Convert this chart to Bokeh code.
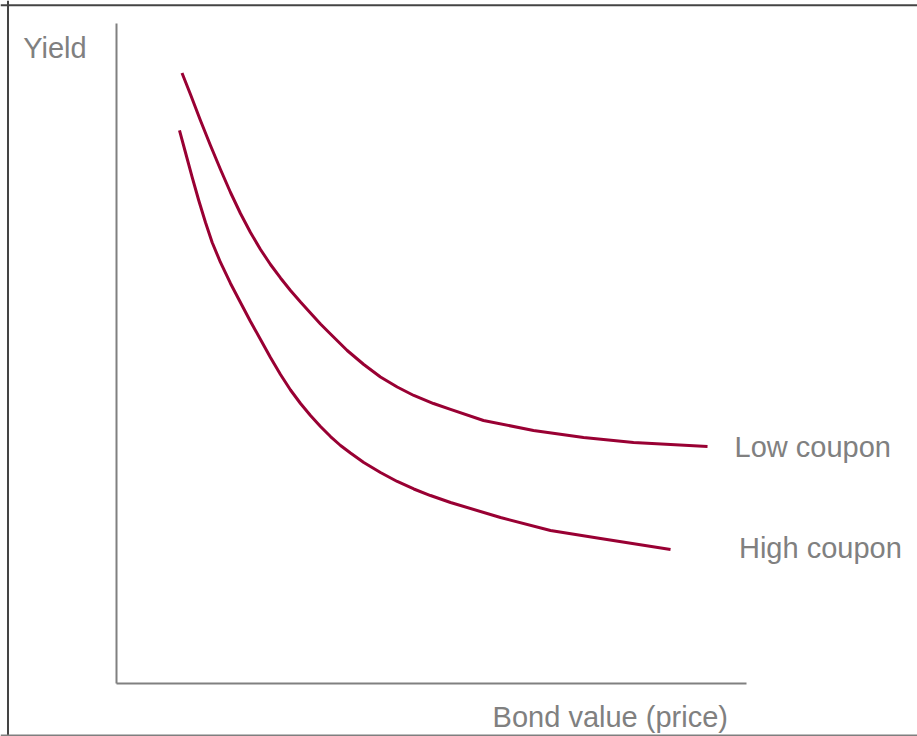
from bokeh.plotting import figure
from bokeh.models import Range1d, LinearAxis, FixedTicker, Span
from bokeh.core.properties import value
from bokeh.embed import file_html
from bokeh.resources import INLINE

# --- data (abstract price / yield units; both axes span 0..100) ---
low_price = [10.40, 11.75, 13.33, 14.92, 16.51, 18.10, 19.68, 21.27, 22.86, 24.44,
             26.03, 27.62, 29.21, 30.79, 32.38, 33.97, 36.62, 39.25, 41.90, 44.56,
             47.19, 50.32, 53.02, 58.25, 66.19, 74.13, 82.06, 93.81]
low_yield = [92.50, 89.24, 85.30, 81.52, 77.88, 74.39, 71.21, 68.33, 65.76, 63.48,
             61.44, 59.55, 57.80, 56.14, 54.47, 52.95, 50.45, 48.33, 46.44, 44.92,
             43.64, 42.42, 41.52, 39.85, 38.33, 37.27, 36.52, 35.91]
high_price = [10.00, 10.95, 12.02, 13.06, 14.13, 15.19, 16.51, 18.10, 19.68, 21.27,
              22.86, 24.44, 26.03, 27.62, 29.21, 30.79, 32.38, 33.97, 35.56, 37.14,
              39.25, 41.90, 44.56, 47.19, 49.84, 53.02, 60.95, 68.89, 76.83, 87.94]
high_yield = [83.79, 80.45, 76.67, 73.18, 69.85, 66.82, 63.79, 60.61, 57.73, 54.85,
              52.12, 49.39, 46.82, 44.47, 42.42, 40.61, 38.94, 37.42, 36.06, 34.92,
              33.48, 31.97, 30.61, 29.47, 28.48, 27.42, 25.15, 23.18, 21.97, 20.30]

series_labels = ["Low coupon", "High coupon"]
label_x = [98.1, 98.8]
label_y = [35.77, 20.57]

axis_titles = ["Yield", "Bond value (price)"]
title_x = [-14.8, 59.7]
title_y = [96.27, -5.03]

CURVE = "#990033"
GREY = "#808080"
FONT = "Liberation Sans"

p = figure(width=917, height=736, output_backend="svg", toolbar_location=None,
           x_range=Range1d(-18.41, 127.14), y_range=Range1d(-8.03, 103.48),
           x_axis_location=None, y_axis_location=None, min_border=0,
           outline_line_color=None, background_fill_color="white",
           border_fill_color="white")
p.grid.visible = False

def bare_axis(axis):
    axis.ticker = FixedTicker(ticks=[])
    axis.axis_line_color = GREY
    axis.axis_line_width = 2
    axis.major_tick_line_color = None
    axis.minor_tick_line_color = None
    axis.major_label_text_font_size = "0px"
    return axis

xaxis = bare_axis(LinearAxis(fixed_location=0, bounds=(0, 100)))
yaxis = bare_axis(LinearAxis(fixed_location=0, bounds=(0, 100)))
p.add_layout(xaxis, "below")
p.add_layout(yaxis, "left")

p.line(low_price, low_yield, line_color=CURVE, line_width=3, line_join="round")
p.line(high_price, high_yield, line_color=CURVE, line_width=3, line_join="round")

p.text(x=label_x, y=label_y, text=series_labels, text_font=value(FONT),
       text_font_size="29px", text_color=GREY, text_align="left",
       text_baseline="alphabetic")
p.text(x=title_x, y=title_y, text=axis_titles, text_font=value(FONT),
       text_font_size="29px", text_color=GREY, text_align="left",
       text_baseline="alphabetic")

# outer frame edges (left, top, bottom)
p.add_layout(Span(location=-17.22, dimension="height", line_color="#444444", line_width=2))
p.add_layout(Span(location=102.77, dimension="width", line_color="#444444", line_width=2))
p.add_layout(Span(location=-7.88, dimension="width", line_color="#7f7f7f", line_width=2))

open("out.html", "w").write(file_html(p, INLINE))
